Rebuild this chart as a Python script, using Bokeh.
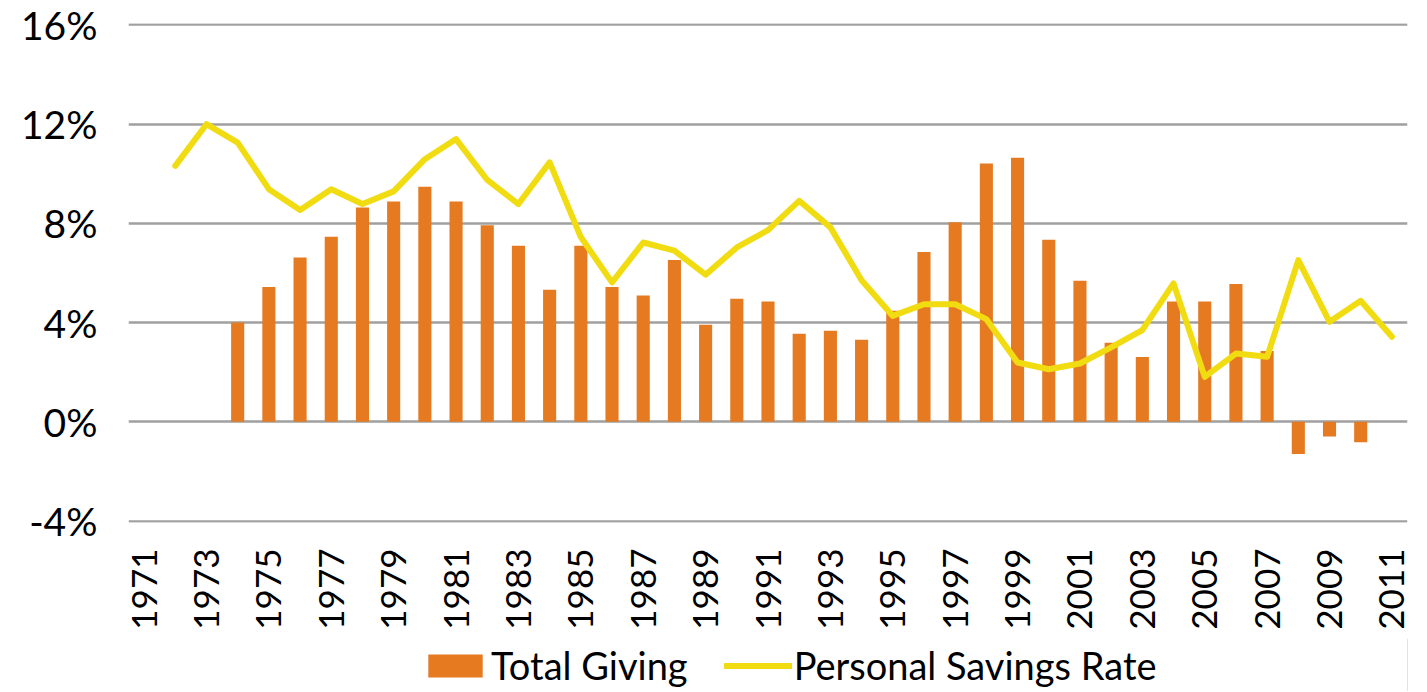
from bokeh.plotting import figure
from bokeh.layouts import column
from bokeh.models import Range1d, FixedTicker, CustomJSTickFormatter, Legend, LegendItem
from bokeh.embed import file_html
from bokeh.resources import INLINE
import math

giving_years = list(range(1974, 2011))
total_giving = [4.00, 5.44, 6.63, 7.46, 8.64, 8.88, 9.48, 8.88, 7.93, 7.10,
                5.32, 7.10, 5.44, 5.09, 6.52, 3.91, 4.96, 4.85, 3.55, 3.67,
                3.31, 4.48, 6.85, 8.05, 10.42, 10.65, 7.34, 5.69, 3.19, 2.61,
                4.85, 4.85, 5.56, 2.85, -1.30, -0.59, -0.82]

savings_years = list(range(1972, 2012))
savings_rate = [10.32, 12.00, 11.26, 9.38, 8.54, 9.38, 8.78, 9.29, 10.59, 11.40,
                9.75, 8.78, 10.46, 7.45, 5.62, 7.23, 6.90, 5.93, 7.03, 7.73,
                8.91, 7.84, 5.71, 4.27, 4.74, 4.74, 4.14, 2.39, 2.12, 2.35,
                3.00, 3.70, 5.58, 1.81, 2.75, 2.62, 6.52, 4.03, 4.88, 3.43]

x_ticks = list(range(1971, 2012, 2))
y_ticks = [-4, 0, 4, 8, 12, 16]
legend_labels = ["Total Giving", "Personal Savings Rate"]

FONT = "Lato"
ORANGE = "#E57A21"
YELLOW = "#F1DC12"

p = figure(width=1420, height=638, output_backend="svg", toolbar_location=None,
           x_range=Range1d(1970.5, 2011.5), y_range=Range1d(-4.06, 16.06),
           min_border_left=128, min_border_right=13, min_border_top=23,
           min_border_bottom=116)
p.outline_line_color = None
p.background_fill_color = "white"
p.border_fill_color = "white"

bars = p.vbar(x=giving_years, top=total_giving, bottom=0, width=0.42,
              fill_color=ORANGE, line_color=None)
line = p.line(x=savings_years, y=savings_rate, line_color=YELLOW, line_width=6,
              line_join="round", line_cap="round")

p.xgrid.grid_line_color = None
p.ygrid.ticker = FixedTicker(ticks=y_ticks)
p.ygrid.grid_line_color = "#a0a0a0"
p.ygrid.grid_line_width = 2.5
p.ygrid.level = "underlay"

p.yaxis.ticker = FixedTicker(ticks=y_ticks)
p.yaxis.formatter = CustomJSTickFormatter(code="return tick + '%';")
p.xaxis.ticker = FixedTicker(ticks=x_ticks)
p.xaxis.major_label_orientation = math.pi / 2

for ax in (p.xaxis[0], p.yaxis[0]):
    ax.axis_line_color = None
    ax.major_tick_line_color = None
    ax.minor_tick_line_color = None
    ax.major_tick_out = 0
    ax.major_tick_in = 0
    ax.major_label_text_font = FONT
    ax.major_label_text_color = "#000000"
p.yaxis.major_label_text_font_size = "39px"
p.yaxis.major_label_standoff = 31
p.xaxis.major_label_text_font_size = "35px"
p.xaxis.major_label_standoff = 26

# legend strip below the chart (key renderers sit outside its visible range)
lg = figure(width=1420, height=53, output_backend="svg", toolbar_location=None,
            x_range=Range1d(0, 1), y_range=Range1d(0, 1),
            x_axis_location=None, y_axis_location=None,
            min_border=0, min_border_left=0, min_border_right=0,
            min_border_top=0, min_border_bottom=0)
lg.outline_line_color = None
lg.grid.visible = False
key_bar = lg.vbar(x=giving_years[:1], top=total_giving[:1], width=0.42,
                  fill_color=ORANGE, line_color=None)
key_line = lg.line(x=savings_years[:2], y=savings_rate[:2], line_color=YELLOW,
                   line_width=6, line_join="round", line_cap="round")
legend = Legend(items=[LegendItem(label=legend_labels[0], renderers=[key_bar]),
                       LegendItem(label=legend_labels[1], renderers=[key_line])],
                location=(293, 3), orientation="horizontal",
                label_text_font=FONT, label_text_font_size="38px",
                label_text_color="#000000",
                glyph_width=68, glyph_height=29, label_standoff=2,
                spacing=36, padding=0, margin=0,
                border_line_color=None, background_fill_alpha=0)
lg.add_layout(legend, "center")

layout = column(p, lg, spacing=0)
open("out.html", "w").write(file_html(layout, INLINE))
